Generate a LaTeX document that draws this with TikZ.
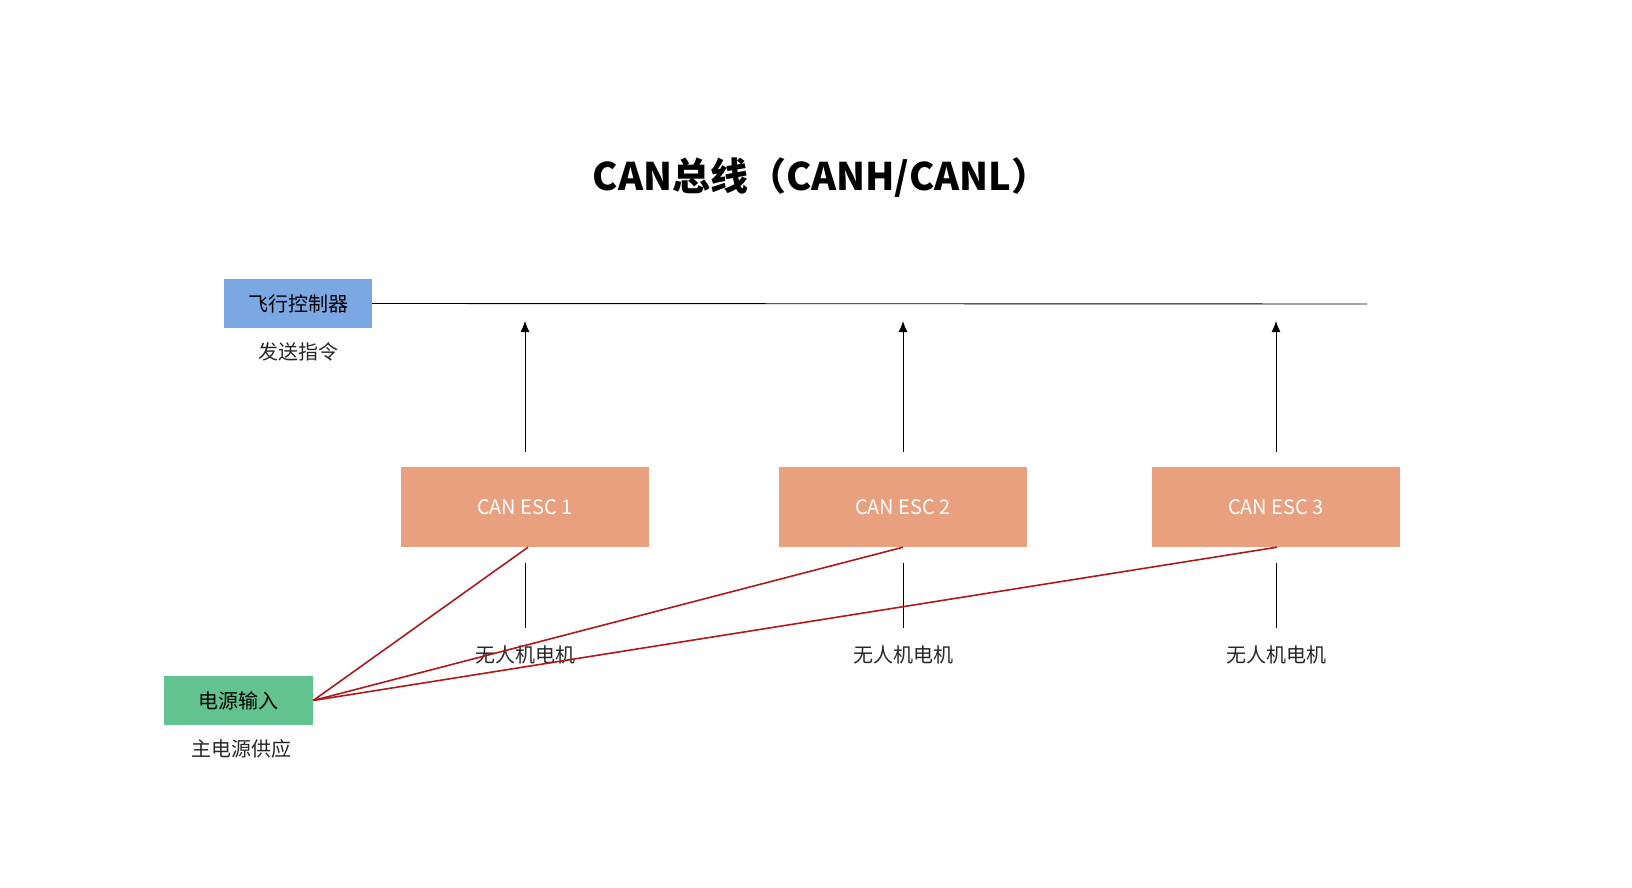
\documentclass[tikz,border=0pt]{standalone}
\usepackage{fontspec}
\newfontfamily\cjk{Noto Sans CJK SC}
\usetikzlibrary{arrows.meta}
\definecolor{fcblue}{HTML}{7BA7E3}
\definecolor{escor}{HTML}{E8A07E}
\definecolor{pwgreen}{HTML}{62C290}
\definecolor{redl}{HTML}{AE1A1A}
\begin{document}
\begin{tikzpicture}[x=1pt,y=-1pt,
  box/.style={draw=none,inner sep=0pt,font=\cjk\fontsize{20}{24}\selectfont},
  esc/.style={box,fill=escor,minimum width=248pt,minimum height=80pt,text=white},
  lbl/.style={font=\cjk\fontsize{20}{24}\selectfont,text=black!85},
  red/.style={draw=redl,line width=1.6pt},
  thin/.style={draw=black,line width=0.9pt}]
\useasboundingbox (0,0) rectangle (1632,888);
\node[lbl,font=\cjk\bfseries\fontsize{38}{44}\selectfont,text=black] (title) at (821,178) {CAN总线（CANH/CANL）};
\node[box,fill=fcblue,minimum width=148pt,minimum height=49pt] (fc) at (298,303.5) {飞行控制器};
\node[lbl] (fct) at (298,352) {发送指令};
\coordinate (busend) at (1367,304);
\draw[thin] (fc.east) -- (busend);
\node[box,fill=pwgreen,minimum width=149pt,minimum height=49pt] (pw) at (238.5,700.5) {电源输入};
\node[lbl] (pwt) at (241,749) {主电源供应};
\foreach \i/\x in {1/525,2/903,3/1276}{
  \node[esc] (esc\i) at (\x,507) {CAN ESC \i};
  \coordinate (up\i) at (\x,452);
  \coordinate (tip\i) at (\x,321);
  \draw[thin,-{Latex[length=11pt,width=9pt]}] (up\i) -- (tip\i);
  \coordinate (dn\i) at (\x,563);
  \node[lbl] (m\i) at (\x,655) {无人机电机};
  \draw[thin] (dn\i) -- (\x,628);
}
\draw[red] (pw.east) -- ([xshift=3pt]esc1.south);
\draw[red] (pw.east) -- (esc2.south);
\draw[red] (pw.east) -- ([xshift=1pt]esc3.south);
\end{tikzpicture}
\end{document}
